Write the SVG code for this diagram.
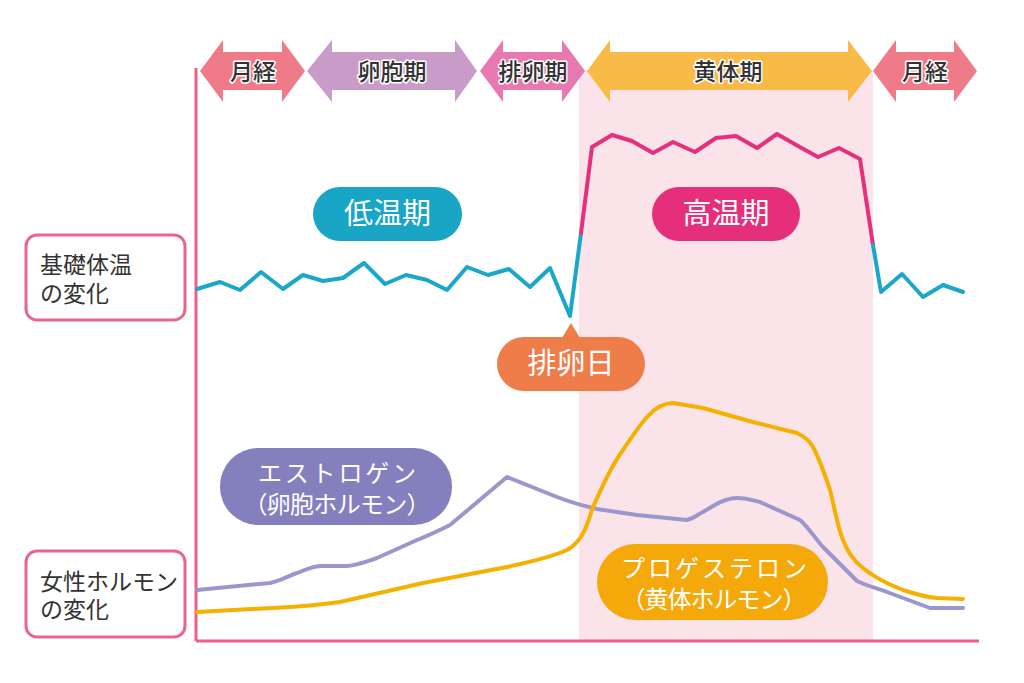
<svg xmlns="http://www.w3.org/2000/svg" width="1024" height="683" viewBox="0 0 1024 683">
<style>
.jp{font-family:"Noto Sans CJK JP","Noto Sans",sans-serif}
.arrowtxt{font-size:23px;font-weight:500;fill:#333;stroke:#fff;stroke-width:3px;paint-order:stroke;stroke-linejoin:round;text-anchor:middle}
.lbl{font-size:23px;fill:#333}
.bub{font-size:29px;fill:#fff;text-anchor:middle}
.bub2{font-size:24px;fill:#fff;text-anchor:middle}
.box{fill:#fff;stroke:#e8668a;stroke-width:3}
.line{fill:none;stroke-width:4;stroke-linejoin:round;stroke-linecap:round}
</style>
<rect width="1024" height="683" fill="#fff"/>
<rect id="luteal-band" x="579" y="70" width="294" height="571" fill="#fbe3ea"/>

<g id="phases">
<g id="phase-menses1"><polygon points="200,71 223,40 223,52 282,52 282,40 305,71 282,102 282,90 223,90 223,102" fill="#ef7a88"/><text class="jp arrowtxt" x="253" y="80">月経</text></g>
<g id="phase-follicular"><polygon points="307,71 332,40 332,52 455,52 455,40 477,71 455,102 455,90 332,90 332,102" fill="#c99bc8"/><text class="jp arrowtxt" x="392" y="80">卵胞期</text></g>
<g id="phase-ovulation"><polygon points="480,71 503,40 503,52 562,52 562,40 585,71 562,102 562,90 503,90 503,102" fill="#e879b0"/><text class="jp arrowtxt" x="533" y="80">排卵期</text></g>
<g id="phase-luteal"><polygon points="587,71 610,40 610,52 848,52 848,40 872,71 848,102 848,90 610,90 610,102" fill="#f8bb47"/><text class="jp arrowtxt" x="728" y="80">黄体期</text></g>
<g id="phase-menses2"><polygon points="873,71 896,40 896,52 954,52 954,40 977,71 954,102 954,90 896,90 896,102" fill="#ef7a88"/><text class="jp arrowtxt" x="925" y="80">月経</text></g>
</g>

<g id="axes" stroke="#ec5f87" stroke-width="3" fill="none">
<line x1="196" y1="68" x2="196" y2="641"/>
<line x1="196" y1="641" x2="979" y2="641"/>
</g>

<g id="label-temp"><rect class="box" x="26" y="235" width="159" height="85" rx="11"/><text class="jp lbl" x="40" y="273">基礎体温</text><text class="jp lbl" x="40" y="302">の変化</text></g>
<g id="label-hormone"><rect class="box" x="26" y="551" width="159" height="86" rx="11"/><text class="jp lbl" x="40" y="590">女性ホルモン</text><text class="jp lbl" x="40" y="618">の変化</text></g>

<g id="connectors">
<polyline class="line" stroke="#1aa7c9" points="197,289 220,282 240,290 261,272 283,289 303,275 323,281 343,278 364,263 385,284 406,275 427,280 447,290 467,267 488,275 509,269 530,287 550,268 570,316 581,233"/>
<polyline class="line" stroke="#e5307b" points="581,233 592,147 612,135 632,141 653,153 673,142 695,152 716,138 736,136 757,148 777,134 798,146 818,157 839,148 860,159 873,245"/>
<polyline class="line" stroke="#1aa7c9" points="873,245 881,292 902,274 923,297 943,285 963,292"/>
<path class="line" stroke="#9b96cc" d="M197,590 L270,583 C283,580 290,575 297,573 C305,570 312,566 322,566 L347,566 C358,565 368,561 377,558 L417,540 C430,535 440,530 450,525 L507,477 L557,497 C570,502 580,505 597,509 L637,515 L687,520 C695,518 698,514 703,512 C715,505 725,498 737,498 C745,498 752,500 760,502 L800,520 C808,527 815,538 823,547 L857,581 C867,586 877,588 887,592 L930,608 L963,608"/>
<path class="line" stroke="#f5b000" d="M197,612 L290,607 C310,606 325,604 340,602 L423,583 L507,567 C530,562 552,557 567,550 C585,540 588,520 593,507 C603,485 612,465 623,450 C633,435 640,425 647,417 C655,408 663,403 673,403 L703,408 L753,422 L797,433 C805,437 810,441 813,447 C820,460 825,475 830,490 C835,510 838,528 843,540 C848,553 855,562 863,568 C875,578 890,585 903,590 C915,594 925,597 937,598 L963,599"/>
</g>

<g id="bubble-low"><rect x="313" y="187" width="149" height="54" rx="27" fill="#18a5c6"/><text class="jp bub" x="387.5" y="224">低温期</text></g>
<g id="bubble-high"><rect x="652" y="187" width="148" height="54" rx="27" fill="#e62f7a"/><text class="jp bub" x="726" y="224">高温期</text></g>
<g id="bubble-ovday"><polygon points="571,323 562,338 580,338" fill="#ee7d4a"/><rect x="497" y="337" width="148" height="54" rx="27" fill="#ee7d4a"/><text class="jp bub" x="571" y="374">排卵日</text></g>
<g id="bubble-estrogen"><rect x="220" y="448" width="232" height="77" rx="38" fill="#8480bd"/><text class="jp bub2" x="337" y="482" textLength="158" lengthAdjust="spacing">エストロゲン</text><text class="jp bub2" x="337" y="513" textLength="187" lengthAdjust="spacing">（卵胞ホルモン）</text></g>
<g id="bubble-progesterone"><rect x="597" y="544" width="231" height="76" rx="38" fill="#f4a80a"/><text class="jp bub2" x="714" y="577" textLength="186" lengthAdjust="spacing">プロゲステロン</text><text class="jp bub2" x="714" y="608" textLength="185" lengthAdjust="spacing">（黄体ホルモン）</text></g>
</svg>
